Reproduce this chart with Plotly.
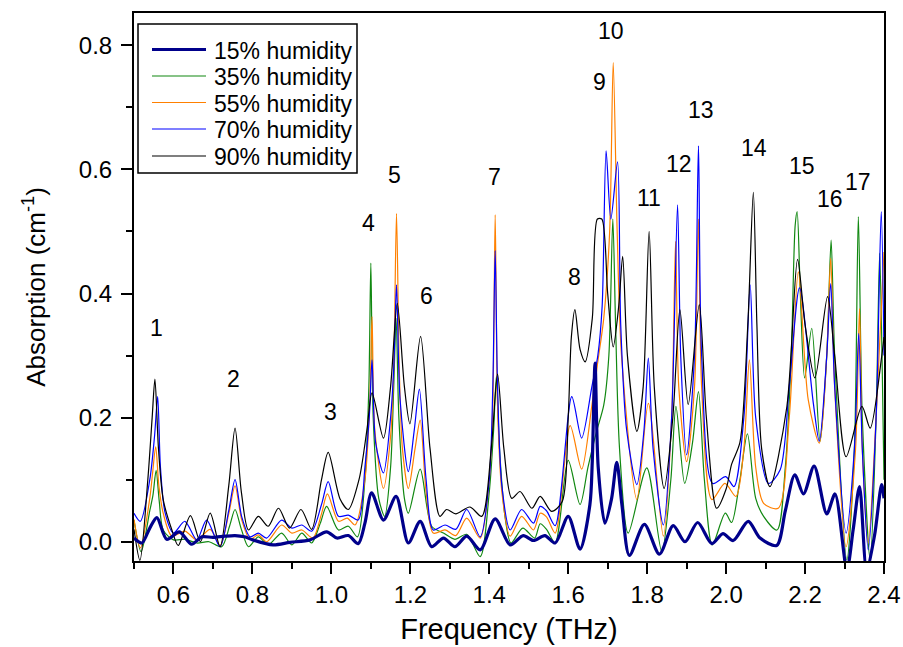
import plotly.graph_objects as go

# ---------------- data ----------------
freq_15 = [0.500,0.520,0.540,0.558,0.583,0.615,0.646,0.672,0.700,0.730,0.756,0.780,0.801,0.852,0.895,0.946,0.988,1.014,1.043,1.068,
           1.085,1.102,1.132,1.164,1.195,1.225,1.254,1.284,1.313,1.343,1.377,1.415,1.453,1.486,1.512,1.541,1.567,1.600,1.630,1.655,
           1.661,1.668,1.676,1.693,1.710,1.723,1.736,1.755,1.793,1.831,1.866,1.896,1.928,1.964,1.992,2.018,2.056,2.086,2.128,2.150,
           2.174,2.196,2.223,2.255,2.276,2.306,2.322,2.338,2.356,2.376,2.394,2.400]
abs_15 = [0.006,-0.002,0.022,0.039,0.004,0.016,-0.004,0.008,0.007,0.009,0.010,0.008,0.003,-0.005,-0.001,0.003,0.016,0.006,0.010,-0.003,
          0.030,0.079,0.035,0.073,-0.002,0.033,-0.008,0.006,-0.008,0.009,-0.013,0.037,-0.005,0.010,0.002,0.010,-0.002,0.041,-0.012,0.060,
          0.130,0.288,0.120,0.030,0.070,0.128,0.060,-0.022,0.028,-0.020,0.026,0.000,0.031,-0.003,0.013,0.002,0.033,0.006,-0.006,0.050,
          0.108,0.077,0.122,0.045,0.077,-0.045,0.020,0.089,-0.045,0.010,0.092,0.070]

freq_35 = [0.500,0.518,0.540,0.548,0.556,0.564,0.574,0.600,0.630,0.659,0.690,0.722,0.742,0.756,0.772,0.790,0.815,0.840,0.874,0.900,
           0.925,0.950,0.972,0.988,1.018,1.043,1.066,1.085,1.095,1.100,1.106,1.120,1.135,1.150,1.158,1.164,1.171,1.185,1.195,1.225,
           1.254,1.284,1.313,1.343,1.377,1.400,1.411,1.418,1.426,1.440,1.455,1.485,1.515,1.529,1.545,1.567,1.600,1.630,1.650,1.671,
           1.690,1.703,1.713,1.720,1.730,1.752,1.799,1.837,1.860,1.873,1.895,1.915,1.930,1.945,1.965,1.998,2.014,2.035,2.054,2.075,
           2.095,2.129,2.150,2.165,2.175,2.180,2.188,2.199,2.217,2.238,2.255,2.266,2.275,2.306,2.325,2.335,2.345,2.365,2.380,2.389,
           2.395,2.400]
abs_35 = [0.035,-0.016,0.050,0.075,0.115,0.065,0.019,0.003,0.004,-0.002,0.000,-0.008,0.025,0.052,0.020,-0.008,0.008,-0.005,0.014,-0.005,
          0.014,-0.002,0.030,0.057,0.019,0.025,0.008,0.100,0.250,0.449,0.200,0.070,0.041,0.120,0.250,0.360,0.200,0.070,0.046,0.117,
          0.025,0.014,0.004,0.012,-0.024,0.080,0.180,0.266,0.150,0.040,-0.002,0.022,0.006,0.029,0.020,-0.002,0.131,0.060,0.120,0.176,
          0.220,0.300,0.520,0.350,0.150,0.014,0.119,-0.016,0.100,0.218,0.094,0.160,0.242,0.100,-0.005,0.046,0.031,0.100,0.174,0.070,
          0.041,0.019,0.120,0.300,0.510,0.532,0.400,0.264,0.344,0.162,0.300,0.486,0.300,-0.029,0.150,0.524,0.200,-0.029,0.200,0.465,
          0.300,0.100]

freq_55 = [0.500,0.516,0.540,0.547,0.555,0.563,0.574,0.596,0.629,0.659,0.693,0.718,0.740,0.756,0.773,0.794,0.815,0.836,0.874,0.900,
           0.925,0.953,0.975,0.990,1.018,1.040,1.060,1.085,1.097,1.103,1.110,1.132,1.150,1.158,1.165,1.172,1.180,1.195,1.212,1.225,
           1.240,1.258,1.288,1.315,1.343,1.377,1.400,1.409,1.415,1.421,1.432,1.453,1.482,1.512,1.529,1.545,1.567,1.605,1.634,1.660,
           1.675,1.690,1.705,1.714,1.724,1.735,1.774,1.803,1.841,1.862,1.872,1.880,1.900,1.920,1.930,1.938,1.964,1.997,2.025,2.045,
           2.059,2.075,2.095,2.132,2.160,2.183,2.208,2.236,2.255,2.265,2.275,2.304,2.328,2.338,2.345,2.360,2.380,2.400]
abs_55 = [0.036,-0.010,0.070,0.110,0.153,0.090,0.046,0.009,0.017,0.003,0.020,-0.006,0.045,0.090,0.035,0.004,0.011,0.000,0.027,0.014,
          0.019,0.006,0.045,0.077,0.033,0.038,0.027,0.100,0.220,0.363,0.180,0.086,0.170,0.280,0.529,0.280,0.150,0.086,0.150,0.196,
          0.080,0.014,0.019,0.010,0.038,0.006,0.100,0.220,0.527,0.220,0.080,0.009,0.041,0.019,0.046,0.040,0.014,0.187,0.117,0.220,
          0.290,0.360,0.500,0.772,0.500,0.300,0.068,0.223,0.009,0.200,0.484,0.250,0.129,0.250,0.520,0.250,0.068,0.094,0.073,0.150,
          0.293,0.120,0.062,0.054,0.200,0.435,0.229,0.159,0.300,0.457,0.250,-0.008,0.150,0.376,0.150,-0.002,0.200,0.467]

freq_70 = [0.500,0.516,0.540,0.552,0.560,0.567,0.579,0.600,0.629,0.659,0.684,0.718,0.740,0.756,0.773,0.794,0.815,0.836,0.874,0.900,
           0.925,0.950,0.975,0.992,1.018,1.043,1.068,1.085,1.096,1.103,1.112,1.132,1.150,1.158,1.165,1.174,1.195,1.210,1.223,1.240,
           1.258,1.288,1.315,1.343,1.377,1.400,1.409,1.415,1.421,1.432,1.453,1.482,1.512,1.529,1.545,1.567,1.609,1.634,1.660,1.675,
           1.686,1.696,1.708,1.725,1.733,1.748,1.774,1.792,1.803,1.815,1.841,1.862,1.877,1.885,1.900,1.920,1.930,1.938,1.966,1.999,
           2.020,2.045,2.061,2.075,2.107,2.137,2.160,2.186,2.221,2.236,2.255,2.265,2.275,2.304,2.325,2.336,2.345,2.360,2.380,2.393,
           2.400]
abs_70 = [0.046,0.033,0.100,0.170,0.234,0.120,0.046,0.014,0.033,0.003,0.035,-0.008,0.050,0.100,0.040,0.008,0.014,0.006,0.035,0.022,
          0.027,0.017,0.060,0.097,0.041,0.043,0.035,0.120,0.200,0.293,0.160,0.111,0.200,0.280,0.414,0.230,0.113,0.180,0.246,0.100,
          0.019,0.027,0.020,0.052,0.008,0.100,0.250,0.469,0.250,0.090,0.019,0.052,0.030,0.057,0.050,0.026,0.234,0.167,0.250,0.300,
          0.380,0.630,0.520,0.612,0.350,0.180,0.092,0.180,0.296,0.150,0.027,0.200,0.543,0.300,0.140,0.300,0.638,0.300,0.094,0.105,
          0.089,0.200,0.414,0.200,0.094,0.116,0.250,0.409,0.223,0.162,0.300,0.416,0.250,0.014,0.150,0.336,0.150,-0.013,0.200,0.532,
          0.300]

freq_90 = [0.500,0.515,0.535,0.546,0.553,0.562,0.574,0.596,0.612,0.643,0.668,0.693,0.718,0.740,0.756,0.772,0.790,0.815,0.840,0.866,
           0.894,0.923,0.950,0.975,0.992,1.022,1.043,1.070,1.090,1.103,1.132,1.150,1.167,1.185,1.199,1.226,1.250,1.275,1.292,1.315,
           1.351,1.381,1.405,1.421,1.437,1.457,1.478,1.508,1.529,1.558,1.585,1.600,1.608,1.617,1.630,1.643,1.661,1.674,1.685,1.700,
           1.714,1.728,1.738,1.750,1.774,1.790,1.805,1.818,1.843,1.865,1.883,1.904,1.932,1.950,1.976,2.000,2.014,2.035,2.055,2.069,
           2.078,2.090,2.111,2.154,2.181,2.200,2.225,2.257,2.275,2.304,2.344,2.365,2.394,2.400]
abs_90 = [0.020,-0.030,0.100,0.200,0.262,0.150,0.068,0.019,-0.006,0.042,0.000,0.046,-0.008,0.090,0.183,0.080,0.019,0.041,0.025,0.054,
          0.022,0.052,0.020,0.100,0.144,0.069,0.052,0.100,0.180,0.240,0.167,0.250,0.384,0.250,0.190,0.331,0.150,0.041,0.052,0.045,
          0.056,0.041,0.150,0.270,0.150,0.070,0.081,0.054,0.073,0.049,0.065,0.200,0.330,0.374,0.310,0.290,0.360,0.520,0.520,0.400,
          0.314,0.380,0.460,0.300,0.178,0.250,0.500,0.250,0.086,0.200,0.374,0.221,0.382,0.200,0.054,0.085,0.125,0.160,0.350,0.563,
          0.350,0.150,0.089,0.218,0.455,0.350,0.264,0.395,0.300,0.137,0.218,0.183,0.298,0.330]

series_names = ["15% humidity", "35% humidity", "55% humidity", "70% humidity", "90% humidity"]

peak_labels = ["1","2","3","4","5","6","7","8","9","10","11","12","13","14","15","16","17"]
peak_label_freq = [0.558,0.753,0.997,1.095,1.161,1.240,1.412,1.617,1.678,1.709,1.805,1.881,1.937,2.071,2.192,2.263,2.334]
peak_label_abs = [0.345,0.262,0.209,0.514,0.591,0.396,0.588,0.427,0.741,0.823,0.554,0.609,0.696,0.634,0.605,0.552,0.580]

for fx, fy in [(freq_15, abs_15), (freq_35, abs_35), (freq_55, abs_55), (freq_70, abs_70), (freq_90, abs_90)]:
    assert len(fx) == len(fy), (len(fx), len(fy))

# ---------------- figure ----------------
FONT = "Liberation Sans, Arial, sans-serif"
styles = {
    "15% humidity": dict(color="#00008B", width=3.2),
    "35% humidity": dict(color="#118811", width=1.2),
    "55% humidity": dict(color="#FF8000", width=1.2),
    "70% humidity": dict(color="#0000FF", width=1.2),
    "90% humidity": dict(color="#000000", width=1.2),
}
data_by_name = {
    "15% humidity": (freq_15, abs_15),
    "35% humidity": (freq_35, abs_35),
    "55% humidity": (freq_55, abs_55),
    "70% humidity": (freq_70, abs_70),
    "90% humidity": (freq_90, abs_90),
}
draw_order = ["35% humidity", "55% humidity", "70% humidity", "90% humidity", "15% humidity"]

fig = go.Figure()
for name in draw_order:
    fx, fy = data_by_name[name]
    st = styles[name]
    fig.add_trace(go.Scatter(
        x=fx, y=fy, mode="lines", name=name, showlegend=False,
        line=dict(color=st["color"], width=st["width"], shape="spline", smoothing=0.8),
    ))

for lab, fx, fy in zip(peak_labels, peak_label_freq, peak_label_abs):
    fig.add_annotation(x=fx, y=fy, text=lab, showarrow=False, xref="x", yref="y",
                       font=dict(family=FONT, size=23, color="black"))

# ---- legend box (drawn in paper coordinates so the sample lines match the reference length) ----
W_PLOT, H_PLOT, L, T = 750.0, 548.0, 134.0, 13.0
def px_x(p):
    return (p - L) / W_PLOT
def px_y(p):
    return 1.0 - (p - T) / H_PLOT

fig.add_shape(type="rect", xref="paper", yref="paper",
              x0=px_x(138), x1=px_x(357), y0=px_y(173), y1=px_y(24),
              line=dict(color="black", width=1.5), fillcolor="white", layer="above")
row_px = [49.5, 76, 102.5, 129, 156]
for name, rp in zip(series_names, row_px):
    st = styles[name]
    fig.add_shape(type="line", xref="paper", yref="paper",
                  x0=px_x(152), x1=px_x(206), y0=px_y(rp), y1=px_y(rp),
                  line=dict(color=st["color"], width=st["width"]), layer="above")
    fig.add_annotation(x=px_x(212), y=px_y(rp + 1), xref="paper", yref="paper",
                       text=name, showarrow=False, xanchor="left", yanchor="middle",
                       font=dict(family=FONT, size=23, color="black"))

axis_common = dict(
    showgrid=False, zeroline=False, showline=True, linecolor="black", linewidth=2,
    mirror=True, ticks="outside", ticklen=11, tickwidth=2, tickcolor="black",
    tickfont=dict(family=FONT, size=24, color="black"), tickformat=".1f",
)
fig.update_xaxes(
    range=[0.5, 2.4], tick0=0, dtick=0.2,
    minor=dict(dtick=0.1, ticks="outside", ticklen=6, tickwidth=2, tickcolor="black"),
    title=dict(text="Frequency (THz)", font=dict(family=FONT, size=29, color="black"), standoff=12),
    **axis_common,
)
fig.update_yaxes(
    range=[-0.031, 0.852], tick0=0, dtick=0.2,
    minor=dict(dtick=0.1, ticks="outside", ticklen=6, tickwidth=2, tickcolor="black"),
    ticklabelstandoff=4,
    title=dict(text="Absorption (cm<sup>-1</sup>)", font=dict(family=FONT, size=26, color="black"), standoff=26),
    **axis_common,
)
fig.update_layout(
    width=903, height=647,
    margin=dict(l=134, r=19, t=13, b=86, autoexpand=False),
    paper_bgcolor="white", plot_bgcolor="white",
    font=dict(family=FONT, color="black"),
    showlegend=False,
)
fig.write_html("out.html")
